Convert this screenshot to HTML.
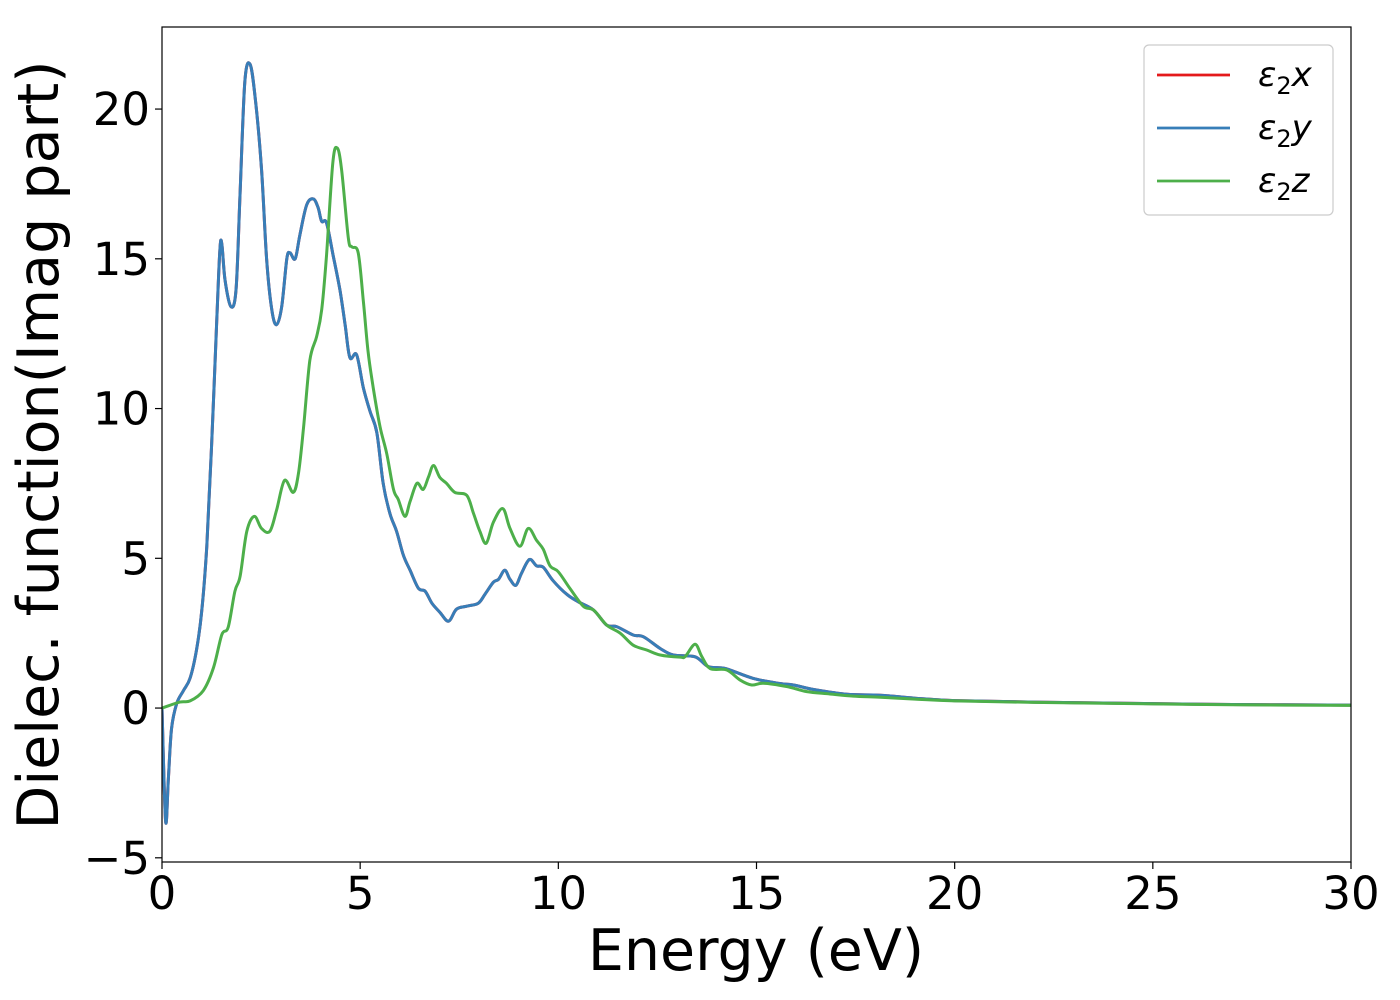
<!DOCTYPE html>
<html><head><meta charset="utf-8"><style>
html,body{margin:0;padding:0;background:#fff;}
svg{display:block;font-family:"DejaVu Sans","Liberation Sans",sans-serif;}
</style></head><body>
<svg id="chart" width="1400" height="1000" viewBox="0 0 1400 1000">
<defs><clipPath id="clip"><rect x="162" y="27" width="1189" height="835"/></clipPath></defs>
<rect x="0" y="0" width="1400" height="1000" fill="#fff"/>
<g id="series" clip-path="url(#clip)"></g>
<rect x="162" y="27" width="1189" height="835" fill="none" stroke="#000" stroke-width="1.2"/>
<g id="xticks"></g>
<g id="yticks"></g>
<text x="756" y="970" font-size="57" text-anchor="middle">Energy (eV)</text>
<text transform="translate(58,445) rotate(-90)" font-size="57" text-anchor="middle">Dielec. function(Imag part)</text>
<g>
<rect x="1144" y="45" width="189" height="170" rx="5" fill="#fff" stroke="#ccc" stroke-width="1.2"/>
<g><line x1="1157" y1="75" x2="1230" y2="75" stroke="#e41a1c" stroke-width="2.8"/><text x="1258" y="86" font-size="34" font-style="italic">ε<tspan font-style="normal" font-size="24" dy="8">2</tspan><tspan dy="-8">x</tspan></text></g>
<g><line x1="1157" y1="128" x2="1230" y2="128" stroke="#377eb8" stroke-width="2.8"/><text x="1258" y="139" font-size="34" font-style="italic">ε<tspan font-style="normal" font-size="24" dy="8">2</tspan><tspan dy="-8">y</tspan></text></g>
<g><line x1="1157" y1="181" x2="1230" y2="181" stroke="#4daf4a" stroke-width="2.8"/><text x="1258" y="192" font-size="34" font-style="italic">ε<tspan font-style="normal" font-size="24" dy="8">2</tspan><tspan dy="-8">z</tspan></text></g>
</g>
</svg>
<script>
const energyXY = [0,0.09,0.16,0.24,0.37,0.54,0.71,0.87,1.0,1.13,1.25,1.38,1.46,1.51,1.59,1.74,1.87,1.97,2.09,2.22,2.35,2.51,2.64,2.77,2.89,3.02,3.15,3.23,3.36,3.48,3.65,3.82,3.94,4.03,4.15,4.32,4.49,4.62,4.74,4.91,5.08,5.25,5.42,5.58,5.75,5.92,6.09,6.26,6.47,6.64,6.81,7.01,7.23,7.43,7.69,7.98,8.15,8.36,8.49,8.65,8.78,8.93,9.07,9.27,9.45,9.62,9.87,10.21,10.5,10.89,11.22,11.47,11.89,12.15,12.57,12.9,13.45,13.79,14.21,14.92,15.59,15.93,16.44,17.28,18.12,19,20,22,25,27,30];
const eps2y = [0,-3.77,-2.4,-0.7,0.15,0.58,1.0,1.94,3.2,5.4,8.7,12.9,15.3,15.5,14.3,13.4,14.0,17.2,20.9,21.5,20.4,18.0,15.0,13.3,12.8,13.4,15.0,15.2,15.0,15.8,16.8,17.0,16.7,16.25,16.2,15.1,13.95,12.8,11.7,11.8,10.7,9.9,9.2,7.5,6.5,5.9,5.1,4.6,4.0,3.9,3.5,3.2,2.9,3.3,3.4,3.5,3.8,4.2,4.3,4.6,4.3,4.1,4.5,4.96,4.75,4.7,4.25,3.8,3.55,3.27,2.77,2.72,2.44,2.38,1.99,1.77,1.71,1.38,1.32,0.99,0.82,0.77,0.62,0.46,0.43,0.33,0.25,0.2,0.15,0.12,0.1];
const eps2x = eps2y.slice();
const energyZ = [0,0.45,0.71,1.04,1.3,1.51,1.67,1.84,1.97,2.14,2.33,2.51,2.72,2.89,3.09,3.31,3.44,3.57,3.73,3.9,4.03,4.15,4.31,4.42,4.53,4.7,4.79,4.95,5.08,5.2,5.33,5.5,5.67,5.84,5.96,6.13,6.26,6.43,6.59,6.72,6.85,7.01,7.18,7.39,7.69,7.86,8.02,8.18,8.36,8.6,8.78,9.03,9.24,9.45,9.62,9.79,10.0,10.29,10.63,10.89,11.22,11.56,11.89,12.23,12.57,13.07,13.2,13.45,13.62,13.83,14.25,14.58,14.88,15.17,15.76,16.27,16.85,17.44,18.12,19,20,22,25,27,30];
const eps2z = [0,0.2,0.24,0.58,1.35,2.45,2.7,3.9,4.4,5.9,6.4,6.0,5.9,6.6,7.6,7.2,7.8,9.35,11.6,12.4,13.3,15.1,18.2,18.7,18.0,15.7,15.4,15.2,13.6,11.9,10.7,9.4,8.5,7.3,6.97,6.4,6.9,7.5,7.3,7.7,8.1,7.7,7.5,7.2,7.1,6.5,5.9,5.5,6.2,6.66,6.0,5.4,6.0,5.6,5.3,4.75,4.55,4.0,3.4,3.27,2.77,2.5,2.1,1.94,1.77,1.7,1.72,2.13,1.72,1.32,1.27,0.94,0.77,0.83,0.72,0.55,0.47,0.4,0.36,0.3,0.24,0.19,0.14,0.11,0.09];
const xTicks = [0,5,10,15,20,25,30];
const yTicks = [-5,0,5,10,15,20];

const X0=162, X1=1351, Y0=862, Y1=27, xMin=0, xMax=30, yMin=-5.14, yMax=22.74;
function sx(v){return X0+(v-xMin)/(xMax-xMin)*(X1-X0);}
function sy(v){return Y0-(v-yMin)/(yMax-yMin)*(Y0-Y1);}
const NS="http://www.w3.org/2000/svg";
function pathD(xs,ys){
  const p=xs.map((x,i)=>[sx(x),sy(ys[i])]);
  let d="M"+p[0][0].toFixed(1)+","+p[0][1].toFixed(1);
  for(let i=0;i<p.length-1;i++){
    const a=p[Math.max(0,i-1)],b=p[i],c=p[i+1],e=p[Math.min(p.length-1,i+2)];
    const c1=[b[0]+(c[0]-a[0])/6,b[1]+(c[1]-a[1])/6],c2=[c[0]-(e[0]-b[0])/6,c[1]-(e[1]-b[1])/6];
    d+=" C"+c1[0].toFixed(1)+","+c1[1].toFixed(1)+" "+c2[0].toFixed(1)+","+c2[1].toFixed(1)+" "+c[0].toFixed(1)+","+c[1].toFixed(1);
  }
  return d;
}
const g=document.getElementById("series");
function addLine(xs,ys,color,name){
  const el=document.createElementNS(NS,"path");
  el.setAttribute("d",pathD(xs,ys));
  el.setAttribute("fill","none");
  el.setAttribute("stroke",color);
  el.setAttribute("stroke-width","3");
  el.setAttribute("stroke-linejoin","round");
  
  
  g.appendChild(el);
}
addLine(energyXY,eps2x,"#e41a1c","series-eps2x");
addLine(energyXY,eps2y,"#377eb8","series-eps2y");
addLine(energyZ,eps2z,"#4daf4a","series-eps2z");

const xg=document.getElementById("xticks");
xTicks.forEach(t=>{
  const l=document.createElementNS(NS,"line");
  l.setAttribute("x1",sx(t));l.setAttribute("x2",sx(t));l.setAttribute("y1",862);l.setAttribute("y2",869);
  l.setAttribute("stroke","#000");l.setAttribute("stroke-width","1.2");
  
  
  xg.appendChild(l);
  const tx=document.createElementNS(NS,"text");
  tx.setAttribute("x",sx(t));tx.setAttribute("y",909);tx.setAttribute("font-size","45");tx.setAttribute("text-anchor","middle");
  tx.textContent=String(t);
  
  
  xg.appendChild(tx);
});
const yg=document.getElementById("yticks");
yTicks.forEach(t=>{
  const l=document.createElementNS(NS,"line");
  l.setAttribute("x1",155);l.setAttribute("x2",162);l.setAttribute("y1",sy(t));l.setAttribute("y2",sy(t));
  l.setAttribute("stroke","#000");l.setAttribute("stroke-width","1.2");
  
  
  yg.appendChild(l);
  const tx=document.createElementNS(NS,"text");
  tx.setAttribute("x",150);tx.setAttribute("y",sy(t)+16);tx.setAttribute("font-size","45");tx.setAttribute("text-anchor","end");
  tx.textContent=t<0?"\u2212"+Math.abs(t):String(t);
  
  
  yg.appendChild(tx);
});
</script>
</body></html>
